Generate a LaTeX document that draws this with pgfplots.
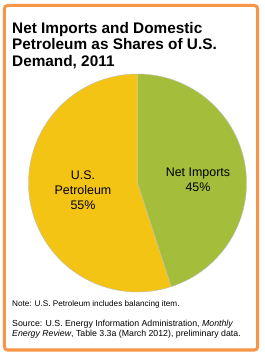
\documentclass[border=0pt]{standalone}
\usepackage{pgfplots}
\usepackage{pgfplotstable}
\pgfplotsset{compat=1.18}
\usetikzlibrary{calc}
\usepackage{fontspec}
\setmainfont{Liberation Sans}
\definecolor{frameorange}{HTML}{F79646}
\definecolor{importgreen}{HTML}{A4BE3C}
\definecolor{petroyellow}{HTML}{F4C414}
\pgfplotstableread[col sep=comma]{
label,value
Net Imports,45
U.S. Petroleum,55
}\piedata
\pgfplotstablegetelem{0}{value}\of\piedata \let\vA\pgfplotsretval
\pgfplotstablegetelem{1}{value}\of\piedata \let\vB\pgfplotsretval
\pgfmathsetmacro\angA{90-3.6*\vA}
\pgfmathsetmacro\angB{\angA-3.6*\vB}
\begin{document}
\begin{tikzpicture}[x=1bp,y=1bp]
\useasboundingbox (0,0) rectangle (265,359);
\fill[white] (0,0) rectangle (265,359);
\draw[frameorange, line width=3bp, rounded corners=3bp] (4.5,353.5) rectangle (257.5,9);
\begin{axis}[
  at={(137.5bp,176bp)}, anchor=center,
  scale only axis, width=218bp, height=218bp,
  xmin=-1, xmax=1, ymin=-1, ymax=1,
  hide axis, clip=false]
\fill[importgreen, draw=black!25, line width=0.4bp] (axis cs:0,0) -- (axis cs:0,1) arc[start angle=90, end angle=\angA, radius=109bp] -- cycle;
\fill[petroyellow, draw=black!25, line width=0.4bp] (axis cs:0,0) -- ($(axis cs:0,0)+(\angA:109bp)$) arc[start angle=\angA, end angle=\angB, radius=109bp] -- cycle;
\end{axis}
\begin{scope}[every node/.style={inner sep=0pt, anchor=base west}]
\node[font=\bfseries\fontsize{15.4}{16}\selectfont] at (12,326) {Net Imports and Domestic};
\node[font=\bfseries\fontsize{15.4}{16}\selectfont] at (12,309.5) {Petroleum as Shares of U.S.};
\node[font=\bfseries\fontsize{15.4}{16}\selectfont] at (12,293) {Demand, 2011};
\node[font=\fontsize{12.5}{15}\selectfont, anchor=center, align=center] at (198,179) {Net Imports\\45\%};
\node[font=\fontsize{12.5}{15}\selectfont, anchor=center, align=center] at (83,169) {U.S.\\Petroleum\\55\%};
\node[font=\fontsize{8.2}{10}\selectfont] at (12,53) {Note: U.S. Petroleum includes balancing item.};
\node[font=\fontsize{8.8}{10}\selectfont] at (12,33) {Source: U.S. Energy Information Administration, \textit{Monthly}};
\node[font=\fontsize{8.8}{10}\selectfont] at (12,22.5) {\textit{Energy Review}, Table 3.3a (March 2012), preliminary data.};
\end{scope}
\end{tikzpicture}
\end{document}
